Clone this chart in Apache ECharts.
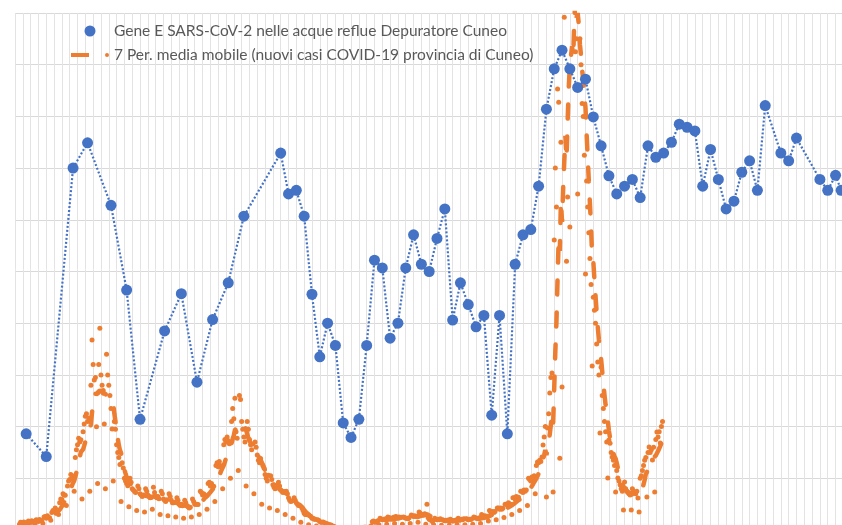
<!DOCTYPE html>
<html>
<head>
<meta charset="utf-8">
<title>Gene E SARS-CoV-2 - Depuratore Cuneo</title>
<script src="https://cdn.jsdelivr.net/npm/echarts@6/dist/echarts.min.js"></script>
<style>
  html, body { margin: 0; padding: 0; background: #fff; }
  #chart { width: 842px; height: 525px; }
</style>
</head>
<body>
<div id="chart"></div>
<script>
// day 0 = first vertical gridline, one gridline per week
var AXIS_MAX_DAY = 756

// wastewater samples (gene E), day index + value (plot units)
var sampleDays = [10, 28, 52, 65, 86, 100, 112, 134, 149, 163, 177, 191, 205,
    238, 245, 252, 259, 266, 273, 280, 287, 294, 301, 308, 315, 322, 329, 336,
    343, 350, 357, 364, 371, 378, 385, 392, 399, 406, 413, 420, 427, 434, 441,
    448, 455, 462, 469, 476, 483, 490, 497, 504, 511, 518, 525, 532, 539, 546,
    553, 560, 567, 574, 581, 588, 595, 602, 609, 616, 623, 630, 637, 644, 651,
    658, 665, 672, 686, 693, 700, 721, 728, 735, 740]
var geneValues = [1.86, 1.42, 7.00, 7.49, 6.28, 4.64, 2.14, 3.85, 4.57, 2.86, 4.07, 4.78, 6.07,
    7.29, 6.50, 6.57, 6.07, 4.56, 3.35, 4.00, 3.57, 2.07, 1.79, 2.14, 3.57, 5.22, 5.07, 3.71,
    4.00, 5.07, 5.71, 5.14, 5.00, 5.64, 6.21, 4.06, 4.78, 4.36, 3.93, 4.15, 2.22, 4.15, 1.86,
    5.14, 5.71, 5.81, 6.65, 8.14, 8.92, 9.28, 8.92, 8.56, 8.72, 7.99, 7.43, 6.85, 6.50, 6.65,
    6.78, 6.43, 7.43, 7.21, 7.29, 7.50, 7.85, 7.79, 7.72, 6.65, 7.36, 6.78, 6.21, 6.36, 6.92,
    7.14, 6.57, 8.21, 7.29, 7.14, 7.58, 6.78, 6.57, 6.86, 6.57]

// daily new cases, province of Cuneo, starting at day 4
var CASES_START_DAY = 4
var dailyCases = [
    22, 30, 28, 25, 31, 27, 26,
    18, 35, 33, 30, 36, 32, 33,
    20, 40, 38, 34, 41, 37, 36,
    25, 50, 52, 45, 55, 48, 47,
    38, 68, 75, 72, 85, 78, 74,
    60, 105, 120, 118, 140, 135, 134,
    95, 170, 190, 195, 215, 200, 209,
    150, 280, 310, 330, 355, 340, 349,
    120, 380, 410, 440, 450, 420, 433,
    150, 560, 735, 640, 580, 590, 399,
    180, 640, 780, 600, 560, 540, 410,
    160, 680, 600, 560, 520, 470, 391,
    190, 420, 390, 330, 300, 280, 253,
    110, 260, 240, 200, 190, 180, 171,
    90, 200, 185, 160, 155, 150, 145,
    75, 170, 160, 140, 135, 130, 135,
    70, 160, 150, 135, 130, 125, 126,
    80, 165, 145, 130, 125, 130, 121,
    60, 150, 140, 120, 115, 110, 117,
    55, 140, 130, 115, 105, 105, 106,
    50, 125, 115, 100, 95, 100, 94,
    45, 115, 105, 95, 90, 85, 88,
    50, 120, 110, 100, 100, 100, 99,
    60, 150, 145, 135, 140, 135, 131,
    80, 180, 185, 170, 180, 170, 169,
    110, 250, 260, 245, 265, 250, 244,
    160, 330, 350, 340, 360, 345, 334,
    200, 420, 470, 430, 510, 380, 355,
    230, 520, 505, 420, 390, 360, 340,
    170, 420, 390, 350, 330, 310, 333,
    140, 340, 320, 290, 270, 260, 277,
    100, 250, 240, 215, 200, 190, 212,
    85, 210, 195, 175, 165, 160, 172,
    75, 185, 170, 155, 150, 145, 149,
    60, 150, 140, 125, 115, 110, 112,
    45, 125, 115, 105, 100, 95, 94,
    30, 85, 75, 65, 60, 60, 59,
    20, 55, 52, 45, 45, 42, 42,
    15, 40, 38, 33, 30, 30, 31,
    8, 25, 24, 20, 19, 18, 19,
    4, 10, 9, 8, 8, 7, 10,
    3, 8, 7, 6, 6, 5, 7,
    2, 7, 6, 5, 5, 4, 6,
    3, 8, 7, 6, 6, 6, 6,
    5, 11, 11, 10, 10, 11, 12,
    15, 32, 35, 30, 32, 30, 36,
    20, 45, 42, 40, 42, 40, 44,
    22, 50, 48, 45, 45, 42, 49,
    25, 52, 50, 48, 50, 48, 49,
    22, 50, 48, 45, 45, 44, 47,
    25, 58, 55, 52, 55, 52, 53,
    30, 70, 65, 60, 60, 58, 63,
    22, 100, 48, 42, 40, 38, 32,
    20, 45, 42, 40, 42, 40, 44,
    18, 40, 38, 36, 38, 36, 39,
    18, 42, 38, 35, 36, 37, 39,
    20, 45, 42, 40, 42, 40, 44,
    20, 44, 43, 40, 42, 41, 43,
    22, 50, 48, 45, 45, 44, 47,
    25, 60, 55, 52, 55, 50, 53,
    35, 75, 70, 70, 72, 68, 72,
    40, 85, 85, 80, 85, 80, 84,
    48, 100, 100, 98, 105, 100, 100,
    60, 125, 125, 120, 130, 125, 127,
    75, 150, 150, 145, 155, 150, 155,
    95, 200, 195, 190, 205, 200, 210,
    140, 250, 263, 260, 270, 265, 282,
    329, 360, 400, 128, 395, 450, 530,
    590, 607, 147, 1122, 1400, 1250, 1706,
    1655, 278, 1500, 553, 2300, 1984, 2400,
    1040, 1288, 2400, 1172, 2350, 2450, 2100,
    2050, 1850, 1900, 1300, 2050, 1900, 1800,
    1650, 1600, 1450, 990, 1350, 1250, 1150,
    1050, 950, 634, 900, 850, 800, 720,
    650, 600, 375, 630, 520, 470, 420,
    380, 340, 201, 348, 336, 300, 282,
    270, 250, 147, 230, 201, 190, 175,
    160, 150, 77, 186, 160, 150, 145,
    140, 135, 77, 160, 150, 145, 140,
    150, 124, 70, 200, 210, 230, 250,
    270, 280, 128, 300, 321, 300, 310,
    271, 320, 147, 350, 379, 360, 380,
    337, 400, 420
]

var NAME_GENE = 'Gene E SARS-CoV-2 nelle acque reflue Depuratore Cuneo'
var NAME_CASES = 'nuovi casi COVID-19 provincia di Cuneo'
var NAME_MA = '7 Per. media mobile (nuovi casi COVID-19 provincia di Cuneo)'

var genePoints = sampleDays.map(function (d, i) { return [d, geneValues[i]] })
var casePoints = dailyCases.map(function (v, i) { return [CASES_START_DAY + i, v] })

// 7 period moving average, like the excel trendline
var movingAvg = []
for (var i = 6; i < dailyCases.length; i++) {
    var sum = 0
    for (var k = i - 6; k <= i; k++) sum += dailyCases[k]
    movingAvg.push([CASES_START_DAY + i, Math.round(sum / 7 * 10) / 10])
}

var chart = echarts.init(document.getElementById('chart'), null, { renderer: 'canvas' })

chart.setOption({
    animation: false,
    backgroundColor: '#ffffff',
    // plot area is larger than the picture (cropped on the right and bottom)
    grid: {
        left: 15,
        top: 13,
        right: -17,
        bottom: -5,
        outerBoundsMode: 'none',
        containLabel: false
    },
    legend: {
        orient: 'vertical',
        left: 66,
        top: 18,
        itemWidth: 38,
        itemHeight: 11,
        itemGap: 8,
        symbolKeepAspect: true,
        selectedMode: false,
        textStyle: {
            fontFamily: 'Lato',
            fontSize: 15.5,
            lineHeight: 16,
            color: '#595959'
        },
        data: [
            { name: NAME_GENE, icon: 'circle' },
            { name: NAME_MA, icon: 'path://M0,0 H18 V4 H0 Z M34,2 A2,2 0 1 1 38,2 A2,2 0 1 1 34,2 Z' }
        ]
    },
    xAxis: {
        type: 'value',
        min: 0,
        max: AXIS_MAX_DAY,
        interval: 7,
        axisLine: { show: false },
        axisTick: { show: false },
        axisLabel: { show: false },
        splitLine: { show: true, lineStyle: { color: '#e3e3e3', width: 1 } }
    },
    yAxis: [{
        type: 'value',
        min: 0,
        max: 10,
        interval: 1,
        axisLine: { show: false },
        axisTick: { show: false },
        axisLabel: { show: false },
        splitLine: { show: true, lineStyle: { color: '#d9d9d9', width: 1 } }
    }, {
        type: 'value',
        min: 0,
        max: 2000,
        interval: 200,
        position: 'right',
        axisLine: { show: false },
        axisTick: { show: false },
        axisLabel: { show: false },
        splitLine: { show: false }
    }],
    series: [{
        name: NAME_CASES,
        type: 'scatter',
        yAxisIndex: 1,
        symbolSize: 5,
        itemStyle: { color: '#ed7d31', opacity: 1 },
        data: casePoints,
        z: 2
    }, {
        name: NAME_MA,
        type: 'line',
        yAxisIndex: 1,
        showSymbol: false,
        symbol: 'none',
        itemStyle: { color: '#ed7d31' },
        lineStyle: { color: '#ed7d31', width: 4.5, type: [14, 18], cap: 'round' },
        data: movingAvg,
        z: 3
    }, {
        name: NAME_GENE,
        type: 'line',
        yAxisIndex: 0,
        symbol: 'circle',
        symbolSize: 11,
        itemStyle: { color: '#4472c4' },
        lineStyle: { color: '#4472c4', width: 2.2, type: [2, 2] },
        data: genePoints,
        z: 4
    }]
})
</script>
</body>
</html>
